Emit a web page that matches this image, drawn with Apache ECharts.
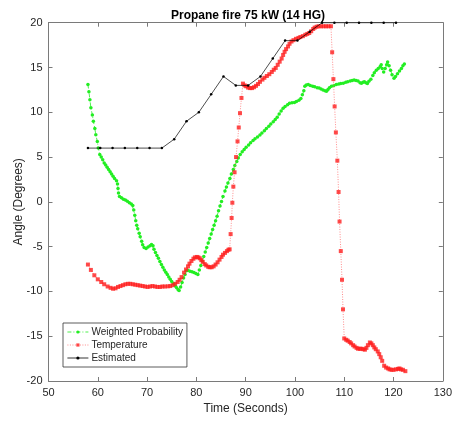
<!DOCTYPE html>
<html>
<head>
<meta charset="utf-8">
<script src="https://cdn.jsdelivr.net/npm/echarts@6/dist/echarts.min.js"></script>
<style>
  html, body { margin: 0; padding: 0; background: #fff; }
  #chart { width: 455px; height: 422px; }
</style>
</head>
<body>
<div id="chart"></div>
<script>
// Weighted Probability (green)
const probTime = [58.0, 58.2, 58.4, 58.6, 58.9, 59.1, 59.4, 59.6, 59.9, 60.1, 60.4, 60.7, 61.0, 61.3, 61.6, 61.9, 62.2, 62.5, 62.8, 63.1,
  63.4, 63.8, 64.0, 64.1, 64.2, 64.4, 64.8, 65.2, 65.6, 66.0, 66.4, 66.8, 67.1, 67.3, 67.5, 67.7, 67.9, 68.1, 68.4, 68.6,
  68.9, 69.1, 69.4, 69.8, 70.2, 70.6, 70.9, 71.2, 71.4, 71.7, 72.0, 72.3, 72.6, 72.9, 73.2, 73.5, 73.8, 74.1, 74.4, 74.7,
  75.0, 75.4, 75.7, 76.0, 76.3, 76.5, 76.8, 77.1, 77.4, 77.7, 78.0, 78.3, 78.7, 79.1, 79.5, 79.9, 80.3, 80.6, 80.9, 81.2,
  81.5, 81.8, 82.1, 82.4, 82.7, 83.0, 83.3, 83.6, 83.9, 84.2, 84.5, 84.8, 85.1, 85.4, 85.8, 86.1, 86.4, 86.8, 87.1, 87.5,
  87.8, 88.2, 88.5, 88.9, 89.3, 89.7, 90.1, 90.6, 91.0, 91.5, 91.9, 92.4, 92.9, 93.3, 93.8, 94.2, 94.7, 95.1, 95.6, 96.0,
  96.4, 96.8, 97.2, 97.6, 98.0, 98.5, 98.9, 99.4, 99.9, 100.3, 100.8, 101.2, 101.5, 101.8, 102.0, 102.3, 102.7, 103.1, 103.6, 104.0,
  104.5, 104.9, 105.3, 105.7, 106.1, 106.4, 106.7, 107.0, 107.4, 107.9, 108.4, 108.9, 109.3, 109.8, 110.3, 110.7, 111.2, 111.6, 112.0, 112.4,
  112.8, 113.2, 113.5, 113.8, 114.1, 114.4, 114.7, 115.0, 115.4, 115.8, 116.1, 116.5, 116.9, 117.3, 117.5, 117.7, 118.0, 118.3, 118.6, 118.8,
  119.1, 119.4, 119.7, 120.1, 120.4, 120.8, 121.2, 121.6, 121.9, 122.2];
const probAngle = [13.1, 12.3, 11.4, 10.5, 9.7, 9.0, 8.2, 7.5, 6.75, 6.0, 5.3, 5.0, 4.7, 4.35, 4.1, 3.85, 3.6, 3.35, 3.1, 2.85,
  2.6, 2.35, 2.0, 1.5, 1.0, 0.6, 0.45, 0.3, 0.2, 0.07, -0.1, -0.25, -0.4, -0.9, -1.5, -2.1, -2.6, -3.0, -3.5, -3.9,
  -4.4, -4.8, -5.1, -5.2, -5.05, -4.9, -4.75, -4.9, -5.3, -5.65, -6.0, -6.3, -6.65, -7.0, -7.3, -7.6, -7.85, -8.1, -8.4, -8.65,
  -8.9, -9.15, -9.4, -9.6, -9.8, -9.9, -9.5, -9.0, -8.5, -8.1, -7.7, -7.65, -7.75, -7.8, -7.9, -8.0, -8.1, -7.6, -7.1, -6.6,
  -6.1, -5.6, -5.1, -4.6, -4.1, -3.6, -3.1, -2.6, -2.1, -1.6, -1.0, -0.45, 0.05, 0.6, 1.2, 1.65, 2.1, 2.6, 3.1, 3.6,
  4.05, 4.5, 4.9, 5.3, 5.6, 5.85, 6.1, 6.35, 6.6, 6.85, 7.05, 7.25, 7.45, 7.7, 7.95, 8.2, 8.45, 8.7, 8.95, 9.2,
  9.45, 9.8, 10.15, 10.45, 10.65, 10.85, 11.0, 11.05, 11.1, 11.2, 11.35, 11.55, 11.95, 12.4, 12.9, 13.05, 13.1, 13.0, 12.9, 12.85,
  12.75, 12.7, 12.6, 12.5, 12.4, 12.35, 12.55, 12.75, 12.9, 13.0, 13.1, 13.15, 13.2, 13.25, 13.35, 13.4, 13.5, 13.55, 13.6, 13.55,
  13.5, 13.3, 13.25, 13.35, 13.4, 13.3, 13.2, 13.45, 13.7, 14.1, 14.4, 14.7, 14.9, 15.1, 15.3, 14.9, 14.5, 14.9, 15.3, 15.6,
  15.2, 14.7, 14.2, 13.8, 14.0, 14.3, 14.6, 14.9, 15.2, 15.4];

// Temperature (red)
const tempTime = [58.0, 58.6, 59.3, 60.0, 60.7, 61.3, 62.0, 62.6, 63.1, 63.6, 64.1, 64.6, 65.1, 65.6, 66.1, 66.6, 67.1, 67.6, 68.1, 68.6,
  69.1, 69.6, 70.1, 70.6, 71.1, 71.6, 72.1, 72.6, 73.1, 73.6, 74.2, 74.7, 75.2, 75.7, 76.2, 76.6, 77.0, 77.5, 77.9, 78.3,
  78.6, 79.0, 79.4, 79.7, 80.1, 80.4, 80.7, 81.0, 81.3, 81.7, 82.0, 82.4, 82.7, 83.1, 83.5, 83.9, 84.3, 84.7, 85.1, 85.4,
  85.8, 86.2, 86.5, 86.75, 86.95, 87.15, 87.3, 87.5, 87.75, 88.05, 88.35, 88.6, 88.85, 89.15, 89.45, 89.8, 90.1, 90.5, 90.9, 91.3,
  91.7, 92.1, 92.5, 92.9, 93.4, 93.8, 94.3, 94.8, 95.3, 95.7, 96.1, 96.5, 96.9, 97.3, 97.6, 97.9, 98.2, 98.6, 98.9, 99.3,
  99.7, 100.2, 100.7, 101.1, 101.6, 102.1, 102.5, 102.9, 103.3, 103.7, 104.0, 104.4, 104.8, 105.3, 105.8, 106.3, 106.8, 107.3, 107.55, 107.8,
  108.05, 108.3, 108.6, 108.85, 109.05, 109.3, 109.55, 109.75, 110.0, 110.4, 110.7, 111.1, 111.4, 111.8, 112.1, 112.5, 112.8, 113.2, 113.5, 113.9,
  114.2, 114.5, 114.8, 115.2, 115.5, 115.8, 116.1, 116.4, 116.8, 117.1, 117.4, 117.7, 118.1, 118.5, 118.9, 119.2, 119.6, 120.0, 120.5, 120.9,
  121.2, 121.5, 121.9, 122.4];
const tempAngle = [-7.0, -7.6, -8.2, -8.65, -8.95, -9.2, -9.45, -9.6, -9.7, -9.65, -9.5, -9.4, -9.3, -9.2, -9.15, -9.15, -9.2, -9.25, -9.3, -9.35,
  -9.4, -9.45, -9.5, -9.45, -9.4, -9.45, -9.5, -9.5, -9.45, -9.45, -9.43, -9.4, -9.3, -9.15, -8.95, -8.7, -8.4, -7.9, -7.55, -7.2,
  -6.9, -6.6, -6.35, -6.2, -6.15, -6.2, -6.3, -6.5, -6.7, -6.95, -7.1, -7.25, -7.3, -7.3, -7.2, -7.0, -6.75, -6.45, -6.15, -5.9,
  -5.7, -5.5, -5.35, -5.3, -3.6, -1.8, -0.1, 1.7, 3.3, 5.0, 6.75, 8.3, 9.9, 11.6, 13.2, 13.0, 12.9, 12.75, 12.7, 12.7,
  12.8, 12.95, 13.15, 13.4, 13.65, 13.85, 14.05, 14.25, 14.5, 14.75, 14.95, 15.3, 15.65, 16.0, 16.4, 16.75, 17.05, 17.35, 17.65, 17.9,
  18.05, 18.2, 18.3, 18.4, 18.5, 18.65, 18.75, 18.85, 19.05, 19.3, 19.45, 19.55, 19.6, 19.6, 19.6, 19.6, 19.6, 19.6, 16.7, 13.7,
  10.65, 7.75, 4.6, 1.1, -2.2, -5.5, -8.7, -12.0, -15.25, -15.4, -15.5, -15.65, -15.8, -16.0, -16.15, -16.3, -16.4, -16.4, -16.4, -16.45,
  -16.5, -16.3, -16.0, -15.7, -15.8, -16.0, -16.25, -16.45, -16.7, -17.0, -17.35, -17.75, -18.3, -18.5, -18.6, -18.7, -18.75, -18.75, -18.7, -18.65,
  -18.6, -18.7, -18.75, -18.9];

// Estimated (black)
const estTime = [58, 60.5, 63, 65.5, 68, 70.5, 73, 75.5, 78, 80.5, 83, 85.5, 88, 90.5, 93, 95.5, 98, 100.5, 103, 105.5,
  108, 110.5, 113, 115.5, 118, 120.5];
const estAngle = [6, 6, 6, 6, 6, 6, 6, 7, 9, 10, 12, 14, 13, 13, 14, 16, 18, 18, 19, 20,
  20, 20, 20, 20, 20, 20];

const xTicks = [50, 130, 10];
const yTicks = [-20, 20, 5];

function zip(xs, ys) {
  return xs.map((x, i) => [x, ys[i]]);
}

const axisColor = '#7a7a7a';
const textColor = '#262626';
const font = 'Liberation Sans, Arial, Helvetica, sans-serif';

const chart = echarts.init(document.getElementById('chart'));

function xAx(pos, labels) {
  return {
    type: 'value', position: pos,
    min: xTicks[0], max: xTicks[1], interval: xTicks[2],
    name: labels ? 'Time (Seconds)' : '',
    nameLocation: 'middle', nameGap: 22,
    nameMoveOverlap: false,
    nameTextStyle: { fontSize: 12, color: textColor, fontFamily: font },
    axisLine: { show: true, onZero: false, lineStyle: { color: axisColor, width: 1 } },
    axisTick: { show: true, inside: true, length: 4, lineStyle: { color: axisColor } },
    axisLabel: { show: labels, fontSize: 11, color: textColor, fontFamily: font, margin: 6 },
    splitLine: { show: false }
  };
}

function yAx(pos, labels) {
  return {
    type: 'value', position: pos,
    min: yTicks[0], max: yTicks[1], interval: yTicks[2],
    name: labels ? 'Angle (Degrees)' : '',
    nameLocation: 'middle', nameGap: 24,
    nameMoveOverlap: false,
    nameTextStyle: { fontSize: 12, color: textColor, fontFamily: font },
    axisLine: { show: true, onZero: false, lineStyle: { color: axisColor, width: 1 } },
    axisTick: { show: true, inside: true, length: 4, lineStyle: { color: axisColor } },
    axisLabel: { show: labels, fontSize: 11, color: textColor, fontFamily: font, margin: 6 },
    splitLine: { show: false }
  };
}

chart.setOption({
  animation: false,
  backgroundColor: '#fff',
  title: {
    text: 'Propane fire 75 kW (14 HG)',
    left: 166, top: 5,
    textStyle: { fontSize: 12, fontWeight: 'bold', color: '#000', fontFamily: font }
  },
  grid: { left: 48.5, right: 10.7, top: 22.7, bottom: 41 },
  xAxis: [xAx('bottom', true), xAx('top', false)],
  yAxis: [yAx('left', true), yAx('right', false)],
  legend: {
    orient: 'vertical',
    left: 63, top: 323,
    padding: [3, 4, 3, 4],
    itemGap: 1,
    itemWidth: 21, itemHeight: 4,
    backgroundColor: '#fff',
    borderColor: '#333', borderWidth: 0.8, borderRadius: 0,
    lineStyle: { width: 0.8 },
    textStyle: { fontSize: 10, color: textColor, fontFamily: font, lineHeight: 12, padding: [0, 0, 0, -2] },
    data: ['Weighted Probability', 'Temperature', 'Estimated']
  },
  series: [
    {
      name: 'Weighted Probability', type: 'line',
      data: zip(probTime, probAngle),
      symbol: 'circle', symbolSize: 3.5,
      itemStyle: { color: '#22ee22' },
      lineStyle: { color: '#22ee22', width: 0.8, type: [4, 2, 1, 2] },
      z: 2
    },
    {
      name: 'Temperature', type: 'line',
      data: zip(tempTime, tempAngle),
      symbol: 'rect', symbolSize: 4,
      itemStyle: { color: 'rgba(255,30,30,0.8)' },
      lineStyle: { color: '#ff7070', width: 0.8, type: [1, 1.5] },
      z: 3
    },
    {
      name: 'Estimated', type: 'line',
      data: zip(estTime, estAngle),
      symbol: 'circle', symbolSize: 2.5,
      itemStyle: { color: '#000' },
      lineStyle: { color: '#000', width: 0.7 },
      z: 4
    }
  ]
});
</script>
</body>
</html>
